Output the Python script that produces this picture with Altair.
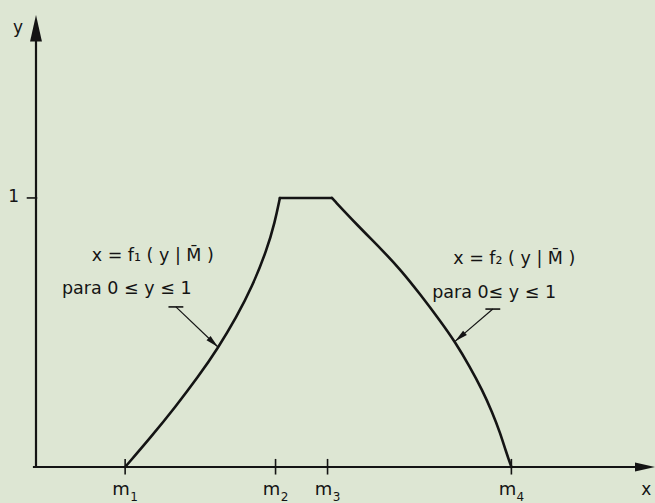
import math
import altair as alt
import pandas as pd

# Points on the m-axis (trapezoidal fuzzy number with curved flanks)
m_sub = ["1", "2", "3", "4"]
m_pos = [1.44, 3.87, 4.71, 7.68]

# Rising flank x = f1(y|M), plateau at y = 1, falling flank x = f2(y|M)
rise_x = [1.44, 1.86, 2.25, 2.62, 2.94, 3.24, 3.49, 3.73, 3.86, 3.94]
rise_y = [0.0, 0.112, 0.223, 0.335, 0.442, 0.558, 0.669, 0.807, 0.911, 1.0]
top_x = [3.94, 4.78]
top_y = [1.0, 1.0]
fall_x = [4.78, 5.19, 5.59, 5.89, 6.21, 6.53, 6.77, 7.01, 7.21, 7.37, 7.50, 7.59, 7.68]
fall_y = [1.0, 0.899, 0.807, 0.733, 0.641, 0.543, 0.465, 0.372, 0.286, 0.204, 0.126, 0.059, 0.0]

# Formula labels: text, left anchor x, anchor y
label_text = ["x = f₁ ( y | M\u0304 )", "para  0 ≤ y ≤ 1",
              "x = f₂ ( y | M\u0304 )", "para  0≤ y ≤ 1"]
label_x = [0.90, 0.42, 6.74, 6.40]
label_y = [0.784, 0.662, 0.773, 0.647]

# Leader arrows: tail (x, y) -> tip on the curve
lead_x = [2.26, 7.38]
lead_y = [0.595, 0.587]
lead_x2 = [2.94, 6.77]
lead_y2 = [0.446, 0.467]

W, H = 619, 452
XMAX, YMAX = 10.0, 1.68
PX_X, PX_Y = W / XMAX, H / YMAX
INK = "#141414"
FONT = "DejaVu Sans"
ARROW = "M0,0L0.45,2L-0.45,2Z"

xs = alt.Scale(domain=[0, XMAX], nice=False, zero=False)
ys = alt.Scale(domain=[0, YMAX], nice=False, zero=False)


def X(f="x"):
    return alt.X(f"{f}:Q", scale=xs, axis=None)


def Y(f="y"):
    return alt.Y(f"{f}:Q", scale=ys, axis=None)


def heading(dx, dy):
    return math.degrees(math.atan2(dx * PX_X, dy * PX_Y)) % 360


# Curve: three pieces so the plateau corners stay sharp
curve_df = pd.DataFrame(
    [{"x": a, "y": b, "seg": "rise", "o": i} for i, (a, b) in enumerate(zip(rise_x, rise_y))]
    + [{"x": a, "y": b, "seg": "top", "o": i} for i, (a, b) in enumerate(zip(top_x, top_y))]
    + [{"x": a, "y": b, "seg": "fall", "o": i} for i, (a, b) in enumerate(zip(fall_x, fall_y))]
)
curve = alt.Chart(curve_df).mark_line(
    color=INK, strokeWidth=2.6, interpolate="basis", strokeCap="round", strokeJoin="round"
).encode(x=X(), y=Y(), detail="seg:N", order="o:Q")

# Coordinate axes
axes_df = pd.DataFrame({
    "x": [-0.05, 0.0], "x2": [9.75, 0.0],
    "y": [0.0, 0.0], "y2": [0.0, 1.60],
})
axes = alt.Chart(axes_df).mark_rule(color=INK, strokeWidth=2.2).encode(
    x=X(), x2="x2:Q", y=Y(), y2="y2:Q"
)

# Tick marks on both axes
ticks_df = pd.DataFrame(
    [{"x": m, "x2": m, "y": -0.028, "y2": 0.03} for m in m_pos]
    + [{"x": -0.15, "x2": 0.02, "y": 1.0, "y2": 1.0}]
)
ticks = alt.Chart(ticks_df).mark_rule(color=INK, strokeWidth=1.6).encode(
    x=X(), x2="x2:Q", y=Y(), y2="y2:Q"
)

# Arrow heads on the axes
heads_df = pd.DataFrame({
    "x": [XMAX, 0.0], "y": [0.0, YMAX], "ang": [90.0, 0.0], "s": [400, 700],
})
heads = alt.Chart(heads_df).mark_point(
    shape=ARROW, filled=True, opacity=1, color=INK, strokeWidth=0
).encode(
    x=X(), y=Y(),
    angle=alt.Angle("ang:Q", scale=None),
    size=alt.Size("s:Q", scale=None),
)

# Tick labels m with subscript index
m_df = pd.DataFrame({"x": m_pos, "y": [-0.086] * 4, "sub": m_sub})
m_main = alt.Chart(m_df).mark_text(
    font=FONT, fontSize=18, color=INK, align="center", baseline="middle", dx=-4
).encode(x=X(), y=Y(), text=alt.value("m"))
m_index = alt.Chart(m_df).mark_text(
    font=FONT, fontSize=12, color=INK, align="center", baseline="middle", dx=9, dy=7
).encode(x=X(), y=Y(), text="sub:N")

# Other axis labels
ax_lab_df = pd.DataFrame(
    {"t": ["x", "1", "y"], "x": [9.86, -0.36, -0.29], "y": [-0.085, 1.005, 1.632]}
)
ax_lab = alt.Chart(ax_lab_df).mark_text(
    font=FONT, fontSize=17, color=INK, align="center", baseline="middle"
).encode(x=X(), y=Y(), text="t:N")

# Formula labels
lab_df = pd.DataFrame({"t": label_text, "x": label_x, "y": label_y})
labels = alt.Chart(lab_df).mark_text(
    font=FONT, fontSize=17.5, color=INK, align="left", baseline="middle"
).encode(x=X(), y=Y(), text="t:N")

# Leader lines with a short bar at the tail and a filled head at the curve
lead_df = pd.DataFrame({"x": lead_x, "y": lead_y, "x2": lead_x2, "y2": lead_y2})
leaders = alt.Chart(lead_df).mark_rule(color=INK, strokeWidth=1.2).encode(
    x=X(), x2="x2:Q", y=Y(), y2="y2:Q"
)
bars_df = pd.DataFrame({
    "x": [lx - 0.12 for lx in lead_x], "x2": [lx + 0.12 for lx in lead_x],
    "y": lead_y, "y2": lead_y,
})
bars = alt.Chart(bars_df).mark_rule(color=INK, strokeWidth=1.6).encode(
    x=X(), x2="x2:Q", y=Y(), y2="y2:Q"
)
tips_df = pd.DataFrame({
    "x": lead_x2, "y": lead_y2,
    "ang": [heading(b - a, d - c) for a, b, c, d in zip(lead_x, lead_x2, lead_y, lead_y2)],
})
tips = alt.Chart(tips_df).mark_point(
    shape=ARROW, filled=True, opacity=1, color=INK, strokeWidth=0, size=170
).encode(x=X(), y=Y(), angle=alt.Angle("ang:Q", scale=None))

chart = alt.layer(
    axes, ticks, heads, curve, leaders, bars, tips, m_main, m_index, ax_lab, labels
).properties(
    width=W, height=H,
    autosize=alt.AutoSizeParams(type="none"),
    padding={"left": 36, "top": 15, "right": 0, "bottom": 36},
    background="#dde6d3",
).configure_view(stroke=None)

chart.save("out.html", embed_options={"renderer": "svg", "actions": False})
